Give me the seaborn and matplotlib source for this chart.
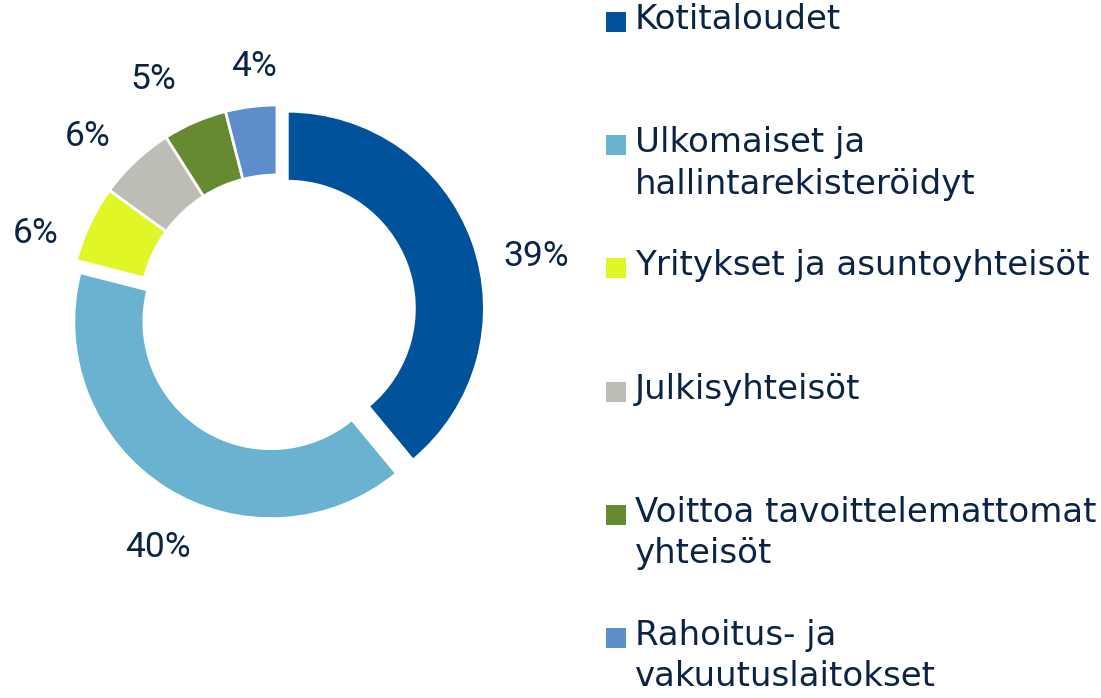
import matplotlib
matplotlib.use("Agg")
import matplotlib.pyplot as plt
import matplotlib.patches as mpatches
import seaborn as sns

# data
categories = ["Kotitaloudet", "Ulkomaiset ja\nhallintarekisteröidyt",
              "Yritykset ja asuntoyhteisöt", "Julkisyhteisöt",
              "Voittoa tavoittelemattomat\nyhteisöt", "Rahoitus- ja\nvakuutuslaitokset"]
shares = [39, 40, 6, 6, 5, 4]
colors = ["#00529B", "#69B3D1", "#E1F626", "#BDBDB6", "#668A2F", "#5E8DCB"]
explode = [0.053, 0.055, 0, 0, 0, 0]

# where the % labels sit (in pie radius units, relative to the centre)
label_pos = [(1.251, 0.266), (-0.575, -1.140), (-1.164, 0.381),
             (-0.913, 0.850), (-0.599, 1.121), (-0.111, 1.184)]

txt_color = "#0B2344"

sns.set_style("white")
plt.rcParams['font.family'] = ['DejaVu Sans']

fig = plt.figure(figsize=(11.01, 6.98), dpi=100)
W, H = 1101, 698
R = 207          # outer radius in px
cx, cy = 277, 312
span = 1.5
ax = fig.add_axes([(cx - span * R) / W, (H - cy - span * R) / H,
                   2 * span * R / W, 2 * span * R / H])

ring = 70 / R
wedges, _ = ax.pie(shares, colors=colors, startangle=90, counterclock=False,
                   explode=explode, radius=1,
                   wedgeprops=dict(width=ring, edgecolor="white", linewidth=2))
# exploded slices come out slightly smaller, as in the original
for w, e in zip(wedges, explode):
    if e > 0:
        w.set_radius(0.952)
        w.set_width(ring)

for v, (x, y) in zip(shares, label_pos):
    ax.text(x, y, f"{v}%", ha="center", va="center", fontsize=25.5,
            color=txt_color, family=['Liberation Sans Narrow', 'Roboto', 'DejaVu Sans'])

ax.set_xlim(-span, span)
ax.set_ylim(-span, span)
ax.set_aspect("equal")
ax.axis("off")

# legend drawn by hand so that markers line up with the first text line
top = 22
step = 123.2
for i, (lab, col) in enumerate(zip(categories, colors)):
    y = top + i * step
    fig.patches.append(mpatches.Rectangle((606 / W, (H - y - 10) / H), 20 / W, 20 / H,
                                          transform=fig.transFigure, facecolor=col,
                                          edgecolor="none"))
    fig.text(635 / W, (H - y + 19) / H, lab, ha="left", va="top", fontsize=24.5,
             color=txt_color, linespacing=1.32)

fig.savefig("out.png", dpi=100)
